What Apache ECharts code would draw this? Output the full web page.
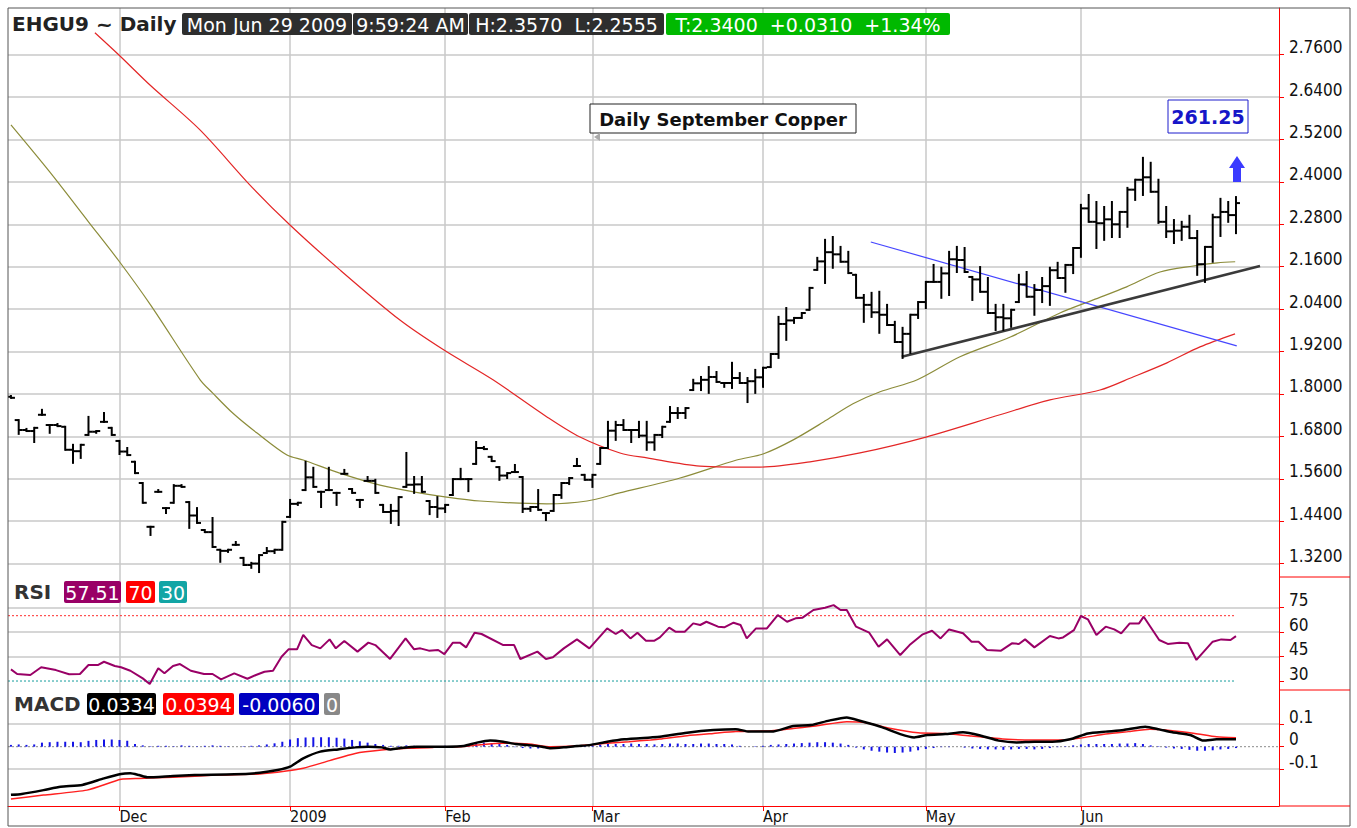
<!DOCTYPE html>
<html>
<head>
<meta charset="utf-8">
<script src="https://cdn.jsdelivr.net/npm/echarts@6.0.0/dist/echarts.min.js"></script>
<style>
html, body { margin: 0; padding: 0; background: #fff; }
#main { width: 1357px; height: 828px; }
</style>
</head>
<body>
<div id="main"></div>
<script>
// trading-day index 0 = Nov 10 2008 ... 158 = Jun 29 2009
const monthIdx = [14, 36, 56, 75, 97, 118, 138];
const monthLabels = ['Dec', '2009', 'Feb', 'Mar', 'Apr', 'May', 'Jun'];

const priceTicks = [1.32, 1.44, 1.56, 1.68, 1.80, 1.92, 2.04, 2.16, 2.28, 2.40, 2.52, 2.64, 2.76];
const rsiTicks = [30, 45, 60, 75];
const macdTicks = [-0.1, 0, 0.1];

const highs = [
  1.794,1.726,1.701,1.704,1.755,1.712,1.715,1.707,1.656,1.656,
  1.735,1.695,1.746,1.704,1.667,1.647,1.608,1.548,1.424,1.528,
  1.477,1.542,1.542,1.494,1.477,1.415,1.449,1.359,1.359,1.381,
  1.336,1.322,1.344,1.364,1.359,1.438,1.500,1.492,1.608,1.591,
  1.523,1.591,1.520,1.585,1.531,1.500,1.565,1.557,1.486,1.486,
  1.508,1.633,1.565,1.565,1.497,1.508,1.486,1.559,1.588,1.559,
  1.664,1.650,1.622,1.593,1.576,1.599,1.565,1.480,1.528,1.463,
  1.514,1.548,1.562,1.616,1.571,1.571,1.647,1.721,1.721,1.726,
  1.698,1.721,1.721,1.684,1.707,1.763,1.760,1.760,1.840,1.848,
  1.876,1.862,1.831,1.888,1.859,1.845,1.868,1.874,1.913,2.018,
  2.043,2.015,2.029,2.100,2.185,2.236,2.244,2.216,2.202,2.137,
  2.080,2.086,2.089,2.052,2.004,1.987,2.024,2.060,2.117,2.165,
  2.157,2.202,2.216,2.213,2.131,2.159,2.128,2.052,2.052,2.038,
  2.137,2.145,2.108,2.128,2.157,2.171,2.165,2.213,2.335,2.363,
  2.343,2.329,2.343,2.315,2.383,2.406,2.468,2.454,2.406,2.329,
  2.292,2.287,2.304,2.261,2.216,2.307,2.352,2.343,2.357
];
const lows = [
  1.789,1.687,1.695,1.664,1.741,1.690,1.709,1.642,1.605,1.619,
  1.684,1.690,1.721,1.684,1.630,1.627,1.576,1.492,1.401,1.523,
  1.463,1.492,1.537,1.421,1.435,1.409,1.367,1.325,1.353,1.373,
  1.316,1.308,1.296,1.350,1.350,1.359,1.452,1.486,1.528,1.537,
  1.480,1.528,1.486,1.574,1.520,1.480,1.554,1.520,1.466,1.435,
  1.429,1.537,1.520,1.523,1.460,1.452,1.466,1.514,1.559,1.525,
  1.602,1.644,1.610,1.557,1.562,1.579,1.466,1.469,1.472,1.443,
  1.469,1.506,1.545,1.596,1.557,1.537,1.602,1.647,1.670,1.698,
  1.664,1.678,1.642,1.642,1.678,1.721,1.732,1.732,1.811,1.811,
  1.803,1.834,1.820,1.817,1.831,1.777,1.803,1.820,1.876,1.902,
  1.953,2.001,2.015,2.038,2.151,2.114,2.157,2.174,2.142,2.072,
  2.004,2.018,1.973,1.995,1.947,1.902,1.916,2.015,2.043,2.117,
  2.072,2.080,2.145,2.145,2.066,2.089,2.029,1.981,1.981,1.990,
  2.060,2.075,2.024,2.060,2.052,2.128,2.089,2.142,2.188,2.287,
  2.213,2.236,2.244,2.244,2.273,2.349,2.363,2.372,2.284,2.244,
  2.227,2.236,2.241,2.137,2.117,2.174,2.247,2.287,2.255
];
const opens = [
  1.792,1.726,1.698,1.695,1.741,1.712,1.712,1.707,1.642,1.638,
  1.684,1.693,1.721,1.704,1.667,1.637,1.608,1.548,1.424,1.523,
  1.477,1.492,1.540,1.494,1.456,1.415,1.409,1.359,1.356,1.373,
  1.336,1.316,1.320,1.350,1.355,1.359,1.452,1.489,1.528,1.564,
  1.523,1.528,1.520,1.574,1.531,1.500,1.554,1.554,1.486,1.466,
  1.469,1.537,1.543,1.544,1.497,1.480,1.476,1.514,1.559,1.559,
  1.602,1.647,1.622,1.593,1.569,1.579,1.565,1.475,1.480,1.463,
  1.469,1.514,1.548,1.596,1.571,1.557,1.602,1.647,1.696,1.712,
  1.698,1.698,1.682,1.663,1.684,1.721,1.746,1.746,1.811,1.830,
  1.840,1.848,1.831,1.831,1.845,1.831,1.836,1.847,1.876,1.913,
  1.998,2.008,2.015,2.038,2.151,2.175,2.201,2.195,2.174,2.137,
  2.072,2.052,2.031,2.024,1.995,1.947,1.970,2.024,2.060,2.117,
  2.117,2.141,2.181,2.179,2.131,2.124,2.089,2.029,2.017,2.014,
  2.060,2.110,2.075,2.094,2.105,2.150,2.128,2.165,2.213,2.325,
  2.287,2.283,2.294,2.280,2.315,2.378,2.406,2.413,2.372,2.287,
  2.260,2.262,2.273,2.241,2.167,2.216,2.300,2.315,2.306
];
const closes = [
  1.789,1.698,1.695,1.704,1.741,1.712,1.709,1.642,1.638,1.656,
  1.693,1.695,1.721,1.684,1.637,1.627,1.576,1.492,1.424,1.523,
  1.477,1.540,1.537,1.456,1.435,1.409,1.367,1.356,1.359,1.373,
  1.316,1.320,1.344,1.355,1.359,1.438,1.489,1.492,1.564,1.537,
  1.523,1.528,1.520,1.574,1.520,1.500,1.554,1.520,1.466,1.469,
  1.508,1.543,1.544,1.523,1.480,1.476,1.486,1.559,1.559,1.559,
  1.647,1.644,1.610,1.569,1.576,1.579,1.475,1.480,1.472,1.463,
  1.514,1.548,1.562,1.596,1.557,1.571,1.647,1.696,1.712,1.698,
  1.698,1.682,1.663,1.684,1.707,1.746,1.746,1.760,1.830,1.840,
  1.848,1.834,1.831,1.845,1.831,1.836,1.847,1.874,1.913,1.998,
  2.008,2.015,2.029,2.100,2.175,2.201,2.195,2.174,2.142,2.072,
  2.052,2.031,2.024,1.995,1.947,1.970,2.024,2.060,2.117,2.117,
  2.141,2.181,2.179,2.145,2.124,2.089,2.029,2.017,2.014,2.038,
  2.110,2.075,2.094,2.105,2.150,2.128,2.165,2.213,2.325,2.287,
  2.283,2.294,2.280,2.315,2.378,2.406,2.413,2.372,2.287,2.260,
  2.262,2.273,2.241,2.167,2.216,2.300,2.315,2.306,2.340
];

// moving averages, read at sampled days
const maOliveIdx = [0, 5, 10, 14, 18, 24.4, 26, 28.6, 31.7, 35.6, 37.7, 42.4, 47.6, 51.9, 56.2, 60.5, 69.1, 74.3, 78.5, 86.3, 93.6, 97, 100.9, 105.2, 108.6, 112.1, 116.9, 122.4, 128.9, 135.3, 139.6, 143.9, 148.2, 152.5, 155.6, 157.9];
const maOliveVal = [2.561, 2.428, 2.287, 2.174, 2.052, 1.840, 1.803, 1.746, 1.690, 1.627, 1.613, 1.576, 1.542, 1.523, 1.508, 1.497, 1.489, 1.497, 1.520, 1.562, 1.613, 1.630, 1.670, 1.726, 1.772, 1.806, 1.840, 1.905, 1.961, 2.029, 2.066, 2.103, 2.145, 2.162, 2.171, 2.174];
const maRedIdx = [10.83, 13.93, 17.93, 24.38, 30.83, 35.99, 42.43, 50.17, 55.85, 62.17, 69.13, 73.39, 78.55, 82.03, 88.87, 96.61, 103.06, 109.51, 118.02, 127.56, 134.01, 140.46, 144.72, 149.1, 153.36, 157.88];
const maRedVal = [2.822, 2.759, 2.674, 2.547, 2.391, 2.278, 2.151, 2.009, 1.924, 1.840, 1.735, 1.678, 1.633, 1.619, 1.596, 1.593, 1.608, 1.633, 1.678, 1.741, 1.783, 1.811, 1.848, 1.888, 1.933, 1.970];

const trendBlack = [[114.9, 1.905], [161.1, 2.162]];
const trendBlue = [[110.9, 2.230], [158.1, 1.936]];

const rsiIdx = [0,0.8,2.5,3.9,5.8,7.5,8.9,10.0,11.2,12.0,13.4,14.2,15.4,17.0,17.9,19.0,19.8,20.9,21.8,23.2,24.9,26.0,27.1,28.8,30.5,31.6,32.7,33.8,34.9,35.8,36.9,37.7,38.8,39.9,41.1,41.9,43.0,44.7,46.1,47.0,48.9,50.9,52.0,52.8,53.9,55.1,55.9,57.0,57.9,58.7,59.8,60.7,63.5,64.9,65.7,67.9,69.0,69.9,71.3,73.0,74.6,76.9,78.0,78.8,79.9,80.8,81.9,83.0,83.7,84.9,85.7,86.9,88.0,88.9,89.7,91.2,92.0,93.2,94.1,94.9,96.1,97.5,98.9,100.1,101.2,102.1,103.5,105.0,106.1,107.0,107.8,109.0,110.7,111.9,113.0,114.7,115.9,117.6,118.8,119.9,121.0,122.8,123.9,124.8,125.9,127.7,129.1,130.0,130.8,132.0,134.0,135.1,135.7,137.1,138.0,138.9,140.0,141.2,142.3,143.2,144.3,145.5,146.1,148.1,149.2,150.7,151.8,152.9,155.0,156.1,157.3,158.0];
const rsiVal = [37.1,34.3,33.7,38.4,36.7,34.1,34.3,39.8,39.8,41.8,39.2,38.4,36.3,31.6,28.2,37.8,34.7,39.2,40.4,36.3,34.3,34.3,31.0,34.7,31.4,33.7,35.7,36.3,44.9,49.4,49.4,58.2,52.0,50.0,55.5,50.0,54.5,48.0,53.5,52.0,43.5,56.1,49.4,50.0,48.6,49.0,46.5,53.5,53.5,50.6,59.6,58.8,52.0,52.0,43.5,48.0,43.5,44.5,50.0,55.5,50.0,62.2,58.8,61.2,56.1,59.6,54.7,54.7,56.7,62.7,60.2,60.2,65.3,64.3,66.3,63.3,62.9,65.7,64.3,56.1,62.2,62.2,70.4,66.3,68.4,68.8,73.5,74.9,76.5,73.5,73.5,63.3,59.6,51.0,55.5,45.9,52.0,58.6,60.8,56.1,61.6,59.2,54.1,54.1,49.0,48.6,53.1,52.7,55.5,50.6,57.6,56.1,56.7,61.2,69.8,67.8,58.2,63.3,61.6,59.2,65.3,65.3,69.4,55.1,52.7,53.5,53.1,42.9,54.1,55.5,55.1,57.5];

const macdIdx = [0,1.4,4.2,6.4,9.2,12.0,14.2,15.4,16.5,17.6,20.9,23.7,28.8,32.1,34.4,36.0,37.7,39.9,42.2,44.4,46.1,47.8,48.9,50.0,52.3,54.5,56.2,58.4,60.1,61.8,63.5,65.1,66.8,68.5,69.6,71.3,73.0,74.6,76.9,79.1,82.5,83.7,87.2,90.6,93.5,95.2,98.1,100.9,103.2,105.5,107.8,109.6,112.4,114.7,116.5,118.2,120.5,122.8,125.1,127.4,129.7,132.0,134.3,136.6,138.9,141.2,143.5,146.3,148.1,149.8,152.1,153.8,155.5,158.0];
const macdVal = [-0.214,-0.210,-0.193,-0.178,-0.170,-0.141,-0.121,-0.118,-0.126,-0.136,-0.130,-0.126,-0.123,-0.116,-0.104,-0.089,-0.052,-0.022,-0.012,-0.003,0.000,-0.003,-0.012,-0.007,0.000,0.000,0.000,0.003,0.018,0.027,0.022,0.012,0.007,0.000,-0.007,-0.003,0.003,0.007,0.022,0.033,0.041,0.044,0.062,0.074,0.078,0.067,0.067,0.092,0.096,0.116,0.130,0.114,0.086,0.056,0.041,0.052,0.056,0.064,0.049,0.027,0.019,0.022,0.022,0.033,0.059,0.067,0.074,0.089,0.077,0.064,0.052,0.027,0.033,0.0334];
const signalIdx = [0,4.2,9.8,14.2,16.5,20.9,26.5,32.1,35.5,37.7,41.1,44.4,47.8,51.1,54.5,57.9,60.1,63.5,66.8,69.6,73.0,76.9,79.7,82.5,83.7,87.2,90.6,93.5,98.1,100.9,103.8,107.8,110.1,113.5,117.0,120.5,123.9,128.5,132.0,135.4,137.7,141.2,144.1,146.9,149.8,152.7,155.5,158.0];
const signalVal = [-0.232,-0.215,-0.193,-0.145,-0.141,-0.136,-0.126,-0.121,-0.108,-0.096,-0.062,-0.030,-0.015,-0.007,-0.003,0.000,0.007,0.015,0.012,0.000,0.004,0.015,0.022,0.030,0.034,0.049,0.059,0.067,0.071,0.081,0.092,0.111,0.108,0.081,0.062,0.059,0.047,0.033,0.030,0.030,0.037,0.056,0.067,0.077,0.071,0.059,0.044,0.0394];
const histVal = [
  0.008,0.010,0.008,0.010,0.018,0.020,0.022,0.022,0.022,0.020,
  0.026,0.030,0.032,0.032,0.030,0.026,0.012,0.006,0.002,0.004,
  0.004,0.002,0.006,0.004,0.002,0.004,0.006,0.004,0.002,0.000,
  0.002,0.004,0.006,0.010,0.015,0.022,0.032,0.038,0.041,0.042,
  0.042,0.042,0.040,0.036,0.030,0.024,0.018,0.012,0.008,0.004,
  0.004,0.006,0.004,0.002,0.002,0.002,0.004,0.002,0.006,0.012,
  0.016,0.018,0.016,0.012,0.008,-0.002,-0.006,-0.008,-0.008,-0.006,
  -0.004,-0.002,0.002,0.004,0.006,0.008,0.010,0.012,0.012,0.012,
  0.014,0.012,0.012,0.010,0.012,0.014,0.014,0.012,0.012,0.014,
  0.014,0.012,0.012,0.010,0.004,0.000,0.002,0.004,0.008,0.010,
  0.012,0.014,0.016,0.018,0.020,0.020,0.018,0.014,0.008,-0.004,
  -0.012,-0.018,-0.022,-0.026,-0.028,-0.026,-0.022,-0.016,-0.010,-0.006,
  -0.002,-0.002,0.000,-0.004,-0.008,-0.010,-0.012,-0.012,-0.014,-0.012,
  -0.010,-0.010,-0.012,-0.010,-0.006,-0.002,0.002,0.006,0.010,0.012,
  0.012,0.012,0.012,0.014,0.014,0.016,0.012,0.006,0.002,-0.004,
  -0.008,-0.010,-0.014,-0.018,-0.018,-0.016,-0.012,-0.010,-0.006
];

const AX_FONT = "'DejaVu Sans Condensed', 'Liberation Sans', sans-serif";
const HD_FONT = "'DejaVu Sans', Verdana, sans-serif";
const GRID_C = '#c8c8c8';
const X_MIN = -0.38, X_MAX = 163.55;

const zip = (a, b) => a.map((v, i) => [v, b[i]]);

function xAxisFor(g, withLabels) {
  return {
    type: 'value', gridIndex: g, min: X_MIN, max: X_MAX,
    axisLine: { show: withLabels, onZero: false, lineStyle: { color: '#ff0000', width: 1 } },
    axisTick: { show: withLabels, customValues: monthIdx, length: 5, lineStyle: { color: '#ff0000' } },
    axisLabel: {
      show: withLabels, customValues: monthIdx,
      formatter: v => monthLabels[monthIdx.indexOf(Math.round(v))],
      align: 'left', margin: 2, fontFamily: AX_FONT, fontSize: 16, color: '#111'
    },
    splitLine: { show: true, lineStyle: { color: GRID_C, width: 1.5 } }
  };
}

function yAxisFor(g, min, max, ticks, fmt, colors) {
  return {
    type: 'value', gridIndex: g, position: 'right', min: min, max: max,
    axisLine: { show: true, onZero: false, lineStyle: { color: '#ff0000', width: 1 } },
    axisTick: { show: true, customValues: ticks, length: 5, lineStyle: { color: '#ff0000' } },
    axisLabel: {
      customValues: ticks, formatter: fmt, margin: 10,
      fontFamily: AX_FONT, fontSize: 17, color: '#111',
      verticalAlign: 'bottom', lineHeight: 15
    },
    splitLine: { show: true, lineStyle: { color: colors, width: 1.5 } }
  };
}

function tag(x, y, w, h, bg, text, font, color) {
  return [
    { type: 'rect', shape: { x: x, y: y, width: w, height: h, r: 2 }, style: { fill: bg }, z: 100 },
    { type: 'text', x: x + w / 2, y: y + h / 2 + 1,
      style: { text: text, fill: color || '#fff', font: font, align: 'center', verticalAlign: 'middle', textAlign: 'center', textVerticalAlign: 'middle' }, z: 101 }
  ];
}
function label(x, y, text, font, color) {
  return { type: 'text', x: x, y: y,
    style: { text: text, fill: color, font: font, align: 'left', verticalAlign: 'middle', textAlign: 'left', textVerticalAlign: 'middle' }, z: 101 };
}
// horizontal reference level drawn as a two-point dotted line
function levelLine(xi, yi, val, x2, color) {
  return {
    type: 'line', xAxisIndex: xi, yAxisIndex: yi, silent: true, z: 2,
    data: [[X_MIN, val], [x2, val]], showSymbol: false,
    lineStyle: { color: color, type: [2, 2], width: 1 }
  };
}

const ohlcData = highs.map((h, i) => [i, opens[i], h, lows[i], closes[i]]);
const histData = histVal.map((v, i) => [i, v]);

const chart = echarts.init(document.getElementById('main'), null, { renderer: 'svg' });

const hdFont = '19px ' + HD_FONT;
const hdBold = 'bold 20px ' + HD_FONT;

chart.setOption({
  animation: false,
  backgroundColor: '#fff',
  grid: [
    { left: 8, right: 78, top: 8, height: 569 },
    { left: 8, right: 78, top: 577, height: 113 },
    { left: 8, right: 78, top: 690, height: 116 }
  ],
  xAxis: [xAxisFor(0, false), xAxisFor(1, false), xAxisFor(2, true)],
  yAxis: [
    yAxisFor(0, 1.282, 2.892, priceTicks, v => v.toFixed(4), [GRID_C]),
    yAxisFor(1, 24.5, 93.7, rsiTicks, v => String(Math.round(v)), ['rgba(0,0,0,0)', GRID_C, GRID_C, GRID_C]),
    yAxisFor(2, -0.2636, 0.252, macdTicks, v => (Math.abs(v) < 1e-9 ? '0' : String(Math.round(v * 10) / 10)), [GRID_C, 'rgba(0,0,0,0)', GRID_C])
  ],
  series: [
    {
      type: 'line', xAxisIndex: 0, yAxisIndex: 0, data: zip(maOliveIdx, maOliveVal),
      showSymbol: false, smooth: 0.3, lineStyle: { color: '#8c8c3a', width: 1.2 }, z: 2
    },
    {
      type: 'line', xAxisIndex: 0, yAxisIndex: 0, data: zip(maRedIdx, maRedVal),
      showSymbol: false, smooth: 0.3, lineStyle: { color: '#e32626', width: 1.2 }, z: 2
    },
    {
      type: 'line', xAxisIndex: 0, yAxisIndex: 0, data: trendBlue,
      showSymbol: false, lineStyle: { color: '#4646ff', width: 1.2 }, z: 3
    },
    {
      type: 'line', xAxisIndex: 0, yAxisIndex: 0, data: trendBlack,
      showSymbol: false, lineStyle: { color: '#3a3a3a', width: 2.5 }, z: 3
    },
    {
      type: 'custom', xAxisIndex: 0, yAxisIndex: 0, data: ohlcData, z: 5, clip: true,
      encode: { x: 0, y: [1, 2, 3, 4] },
      renderItem: function (params, api) {
        const x = api.value(0);
        const pH = api.coord([x, api.value(2)]);
        const pL = api.coord([x, api.value(3)]);
        const pO = api.coord([x, api.value(1)]);
        const pC = api.coord([x, api.value(4)]);
        const st = { stroke: '#000', lineWidth: 2 };
        return {
          type: 'group',
          children: [
            { type: 'line', shape: { x1: pH[0], y1: pH[1] - 1, x2: pL[0], y2: pL[1] + 1 }, style: st },
            { type: 'line', shape: { x1: pO[0] - 4, y1: pO[1], x2: pO[0], y2: pO[1] }, style: st },
            { type: 'line', shape: { x1: pC[0], y1: pC[1], x2: pC[0] + 4, y2: pC[1] }, style: st }
          ]
        };
      }
    },
    levelLine(1, 1, 70, 158, '#ff2a2a'),
    levelLine(1, 1, 30, 158, '#149c9c'),
    {
      type: 'line', xAxisIndex: 1, yAxisIndex: 1, data: zip(rsiIdx, rsiVal),
      showSymbol: false, lineStyle: { color: '#990066', width: 2 }, z: 5
    },
    levelLine(2, 2, 0, X_MAX, '#8a8a8a'),
    {
      type: 'bar', xAxisIndex: 2, yAxisIndex: 2, data: histData, barWidth: 2,
      itemStyle: { color: '#1414e6' }, z: 3
    },
    {
      type: 'line', xAxisIndex: 2, yAxisIndex: 2, data: zip(signalIdx, signalVal),
      showSymbol: false, smooth: 0.2, lineStyle: { color: '#ff2020', width: 1.5 }, z: 4
    },
    {
      type: 'line', xAxisIndex: 2, yAxisIndex: 2, data: zip(macdIdx, macdVal),
      showSymbol: false, smooth: 0.2, lineStyle: { color: '#000', width: 2.5 }, z: 5
    }
  ],
  graphic: [
    // frame and separators
    { type: 'rect', shape: { x: 8, y: 8, width: 1342, height: 818 }, style: { fill: 'none', stroke: '#555', lineWidth: 1 }, z: 90 },
    { type: 'line', shape: { x1: 1279, y1: 577, x2: 1350, y2: 577 }, style: { stroke: '#ff0000', lineWidth: 1 }, z: 90 },
    { type: 'line', shape: { x1: 1279, y1: 690, x2: 1350, y2: 690 }, style: { stroke: '#ff0000', lineWidth: 1 }, z: 90 },
    { type: 'line', shape: { x1: 1279, y1: 806, x2: 1350, y2: 806 }, style: { stroke: '#ff0000', lineWidth: 1 }, z: 90 },

    // header
    label(12, 24, 'EHGU9 ~ Daily', hdBold, '#222'),
    ...tag(182, 13, 170, 22, '#2e2e2e', 'Mon Jun 29 2009', hdFont),
    ...tag(353, 13, 115, 22, '#2e2e2e', '9:59:24 AM', hdFont),
    ...tag(469, 13, 195, 22, '#2e2e2e', 'H:2.3570  L:2.2555', hdFont),
    ...tag(666, 13, 284, 22, '#00b900', 'T:2.3400  +0.0310  +1.34%', hdFont),

    // RSI header
    label(14, 592, 'RSI', hdBold, '#333'),
    ...tag(64, 581, 57, 22, '#990066', '57.51', hdFont),
    ...tag(126, 581, 29, 22, '#ff0000', '70', hdFont),
    ...tag(159, 581, 28, 22, '#12a5a5', '30', hdFont),

    // MACD header
    label(14, 704, 'MACD', hdBold, '#333'),
    ...tag(87, 693, 69, 22, '#000000', '0.0334', hdFont),
    ...tag(163, 693, 71, 22, '#ff0000', '0.0394', hdFont),
    ...tag(239, 693, 80, 22, '#0000c0', '-0.0060', hdFont),
    ...tag(324, 693, 16, 22, '#888888', '0', hdFont),

    // annotations
    { type: 'rect', shape: { x: 590, y: 104, width: 266, height: 29 }, style: { fill: '#fff', stroke: '#222', lineWidth: 1 }, z: 100 },
    { type: 'text', x: 723, y: 119, style: { text: 'Daily September Copper', font: 'bold 18px ' + HD_FONT, fill: '#111', align: 'center', verticalAlign: 'middle', textAlign: 'center', textVerticalAlign: 'middle' }, z: 101 },
    { type: 'polygon', shape: { points: [[600, 133], [600, 141], [594, 137]] }, style: { fill: '#aaa' }, z: 100 },
    { type: 'rect', shape: { x: 1168, y: 100, width: 80, height: 33 }, style: { fill: '#fff', stroke: '#1c1ccc', lineWidth: 1 }, z: 100 },
    { type: 'text', x: 1208, y: 117, style: { text: '261.25', font: 'bold 19px ' + HD_FONT, fill: '#1616c8', align: 'center', verticalAlign: 'middle', textAlign: 'center', textVerticalAlign: 'middle' }, z: 101 },
    { type: 'polygon', shape: { points: [[1237, 156], [1245, 168], [1241, 168], [1241, 182], [1233, 182], [1233, 168], [1229, 168]] }, style: { fill: '#3b3bff' }, z: 100 }
  ]
});
</script>
</body>
</html>
